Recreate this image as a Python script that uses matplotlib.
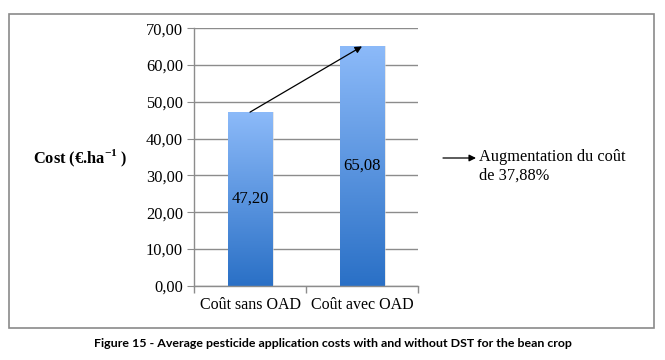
import matplotlib
matplotlib.use("Agg")
import matplotlib.pyplot as plt
import numpy as np
from matplotlib.patches import Rectangle
from matplotlib.colors import LinearSegmentedColormap
from matplotlib.ticker import FuncFormatter, FixedLocator

categories = ["Coût sans OAD", "Coût avec OAD"]
values = [47.20, 65.08]
value_labels = ["47,20", "65,08"]
yticks = [0, 10, 20, 30, 40, 50, 60, 70]
ylabel = "Cost (€.ha$^{\\mathbf{-1}}$ )"
note_lines = "Augmentation du coût\nde 37,88%"
caption = "Figure 15 - Average pesticide application costs with and without DST for the bean crop"

plt.rcParams['mathtext.fontset'] = 'custom'
plt.rcParams['mathtext.rm'] = 'Liberation Serif'
plt.rcParams['mathtext.bf'] = 'Liberation Serif:bold'
serif = 'Liberation Serif'

W, H = 665, 360
fig = plt.figure(figsize=(W / 100, H / 100), dpi=100)

def fx(px):
    return px / W

def fy(py):
    return 1 - py / H

# outer frame
fig.patches.append(Rectangle((fx(9), fy(328)), fx(654) - fx(9), fy(14) - fy(328),
                             transform=fig.transFigure, fill=False,
                             edgecolor='#8a8a8a', linewidth=1.2))

ax = fig.add_axes([fx(194), fy(285.7), fx(418) - fx(194), fy(28.3) - fy(285.7)])
ax.set_xlim(-0.5, 1.5)
ax.set_ylim(0, 70)

grid_c = '#8c8c8c'
for s in ['top', 'right']:
    ax.spines[s].set_visible(False)
for s in ['left', 'bottom']:
    ax.spines[s].set_color(grid_c)
    ax.spines[s].set_linewidth(1.0)

ax.yaxis.set_major_locator(FixedLocator(yticks))
ax.yaxis.set_major_formatter(FuncFormatter(lambda v, p: f"{v:.2f}".replace('.', ',')))
ax.grid(axis='y', color=grid_c, linewidth=1.0)
ax.set_axisbelow(True)
ax.tick_params(axis='y', length=5, color=grid_c, labelsize=11.8, pad=3)
for lab in ax.get_yticklabels():
    lab.set_fontfamily(serif)

ax.set_xticks([0, 1])
ax.set_xticklabels(categories, fontfamily=serif, fontsize=11.5)
ax.tick_params(axis='x', length=0, pad=8)
ax.set_xticks([-0.5, 0.5, 1.5], minor=True)
ax.tick_params(axis='x', which='minor', length=5, color=grid_c, width=1.0)

cmap = LinearSegmentedColormap.from_list('b', ['#2a70c6', '#8cbaf9'])
grad = np.linspace(0, 1, 256).reshape(-1, 1)
bw = 0.4
bars = ax.bar(range(len(values)), values, width=bw, color='none', zorder=2)
for i, (b, v) in enumerate(zip(bars, values)):
    # faint shadow
    sh = Rectangle((i - bw / 2 + 0.012, 0), bw + 0.004, v, facecolor='#d8d8d8',
                   edgecolor='none', zorder=1.5, alpha=0.6)
    ax.add_patch(sh)
    im = ax.imshow(grad, cmap=cmap, origin='lower', aspect='auto',
                   extent=[i - bw / 2, i + bw / 2, 0, v], zorder=2.5)
    im.set_clip_path(b)
    ax.text(i, v / 2, value_labels[i], ha='center', va='center',
            fontfamily=serif, fontsize=12, color='black', zorder=4)
ax.set_xlim(-0.5, 1.5)
ax.set_ylim(0, 70)

ax.annotate('', xy=(1, values[1]), xytext=(0, values[0]),
            arrowprops=dict(arrowstyle='-|>', color='black', lw=0.9,
                            shrinkA=0, shrinkB=0, mutation_scale=10), zorder=5)

fig.text(fx(33), fy(158), ylabel, ha='left', va='center', fontfamily=serif,
         fontweight='bold', fontsize=11.8)

plt.annotate('', xy=(fx(476), fy(158)), xytext=(fx(443), fy(158)),
             xycoords='figure fraction', textcoords='figure fraction',
             arrowprops=dict(arrowstyle='-|>', color='black', lw=0.9,
                             shrinkA=0, shrinkB=0, mutation_scale=10))
fig.text(fx(479), fy(149), note_lines, ha='left', va='top', fontfamily=serif,
         fontsize=11.8, linespacing=1.2)

fig.text(0.5, fy(343.5), caption, ha='center', va='center', fontfamily='Lato',
         fontweight='bold', fontsize=8.95)

fig.savefig('out.png', dpi=100)
